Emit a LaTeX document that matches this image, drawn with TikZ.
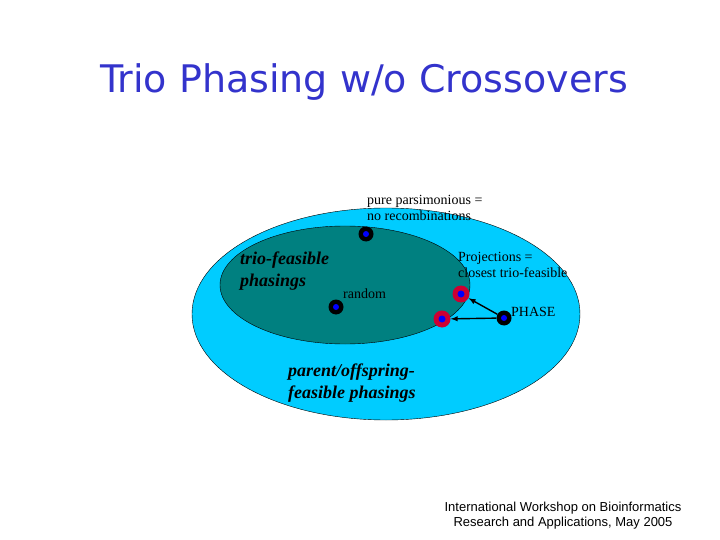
\documentclass[tikz,border=0pt]{standalone}
\usepackage{fontspec}
\setmainfont{Liberation Serif}
\newfontfamily\titlefont{DejaVu Sans}
\newfontfamily\footfont{Liberation Sans}
\definecolor{outerc}{HTML}{00CCFF}
\definecolor{innerc}{HTML}{008080}
\definecolor{titlec}{HTML}{3333CC}
\definecolor{dotblue}{HTML}{0000FF}
\definecolor{ringred}{HTML}{CC0033}
\tikzset{
 blackdot/.style={circle,fill=black,minimum size=15pt,inner sep=0pt,path picture={\fill[dotblue] (path picture bounding box.center) circle (3pt);}},
 reddot/.style={circle,fill=ringred,minimum size=17pt,inner sep=0pt,path picture={\fill[dotblue] (path picture bounding box.center) circle (3.5pt);}},
 lbl/.style={font=\fontsize{14}{16}\selectfont,inner sep=0pt,anchor=north west,align=left},
 big/.style={font=\fontsize{18}{22}\selectfont\bfseries\itshape,inner sep=0pt,anchor=north west,align=left}
}
\begin{document}
\begin{tikzpicture}[x=1pt,y=-1pt]
\useasboundingbox (0,0) rectangle (720,540);
\node[font=\titlefont\fontsize{38}{40}\selectfont,text=titlec] (title) at (364,82) {Trio Phasing w/o Crossovers};
\draw[fill=outerc] (386,314) ellipse [x radius=194,y radius=106];
\draw[fill=innerc] (345,285) ellipse [x radius=125,y radius=59];
\node[lbl] (pp) at (367,195) {pure parsimonious =\\no recombinations};
\node[lbl] (proj) at (458,252) {Projections =\\closest trio-feasible};
\node[lbl] (rnd) at (343,289) {random};
\node[lbl] (ph) at (511,307) {PHASE};
\node[big] (trio) at (240,252) {trio-feasible\\phasings};
\node[big] (par) at (288,364) {parent/offspring-\\feasible phasings};
\node[blackdot] (d1) at (366,234) {};
\node[blackdot] (d2) at (336,307) {};
\node[reddot] (r1) at (461,294) {};
\node[reddot] (r2) at (442,319) {};
\node[blackdot] (d3) at (504,318) {};
\draw[-latex,line width=1.4pt] (d3) -- (r1);
\draw[-latex,line width=1.4pt] (d3) -- (r2);
\node[font=\footfont\fontsize{13}{15}\selectfont,align=center] (foot) at (563,516) {International Workshop on Bioinformatics\\Research and Applications, May 2005};
\end{tikzpicture}
\end{document}
